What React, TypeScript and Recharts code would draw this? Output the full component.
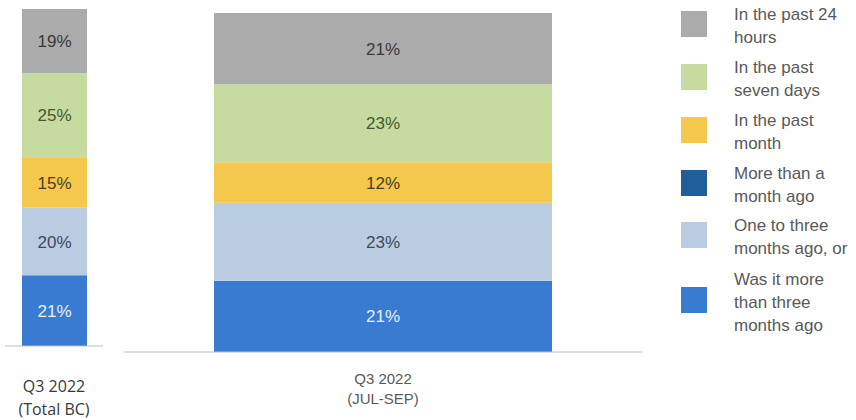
import React from "react";
import { BarChart, Bar, XAxis, YAxis, LabelList } from "recharts";

const leftCategories = ["Q3 2022|(Total BC)"];
const rightCategories = ["Q3 2022|(JUL-SEP)"];

// stack order: bottom to top
const seriesNames = [
  "Was it more than three months ago",
  "One to three months ago, or",
  "More than a month ago",
  "In the past month",
  "In the past seven days",
  "In the past 24 hours",
];
const legendLabels = [
  "Was it more\nthan three\nmonths ago",
  "One to three\nmonths ago, or",
  "More than a\nmonth ago",
  "In the past\nmonth",
  "In the past\nseven days",
  "In the past 24\nhours",
];
const leftValues = [21, 20, 0, 15, 25, 19];
const rightValues = [21, 23, 0, 12, 23, 21];
const colors = ["#3A7BD2", "#B9CCE2", "#1F5E98", "#F4C84C", "#C7DA9F", "#ABABAB"];
const labelColors = ["#E6F0FF", "#3C4A5C", "#FFFFFF", "#4A3F1A", "#3F5A2E", "#3A3A3A"];

const keys = seriesNames.map((_, i) => "s" + i);

const buildRows = (cats: string[], vals: number[]) =>
  cats.map((c) => {
    const row: any = { cat: c };
    keys.forEach((k, i) => (row[k] = vals[i]));
    return row;
  });

const leftData = buildRows(leftCategories, leftValues);
const rightData = buildRows(rightCategories, rightValues);

const makeTick = (fontFamily: string, fontSize: number, color: string, dy1: number, lh: number) =>
  (props: any) => {
    const { x, y, payload } = props;
    const lines = String(payload.value).split("|");
    return (
      <g>
        {lines.map((l, i) => (
          <text
            key={i}
            x={x}
            y={y + dy1 + i * lh}
            textAnchor="middle"
            fontFamily={fontFamily}
            fontSize={fontSize}
            fill={color}
          >
            {l}
          </text>
        ))}
      </g>
    );
  };

const LeftTick = makeTick("'Open Sans', sans-serif", 16, "#3a3a3a", 38, 23);
const RightTick = makeTick("'Liberation Sans', Arial, sans-serif", 15, "#595959", 24, 20);

const renderBars = (barSize: number) =>
  keys.map((k, i) => (
    <Bar
      key={k}
      dataKey={k}
      stackId="a"
      fill={colors[i]}
      barSize={barSize}
      isAnimationActive={false}
      name={seriesNames[i]}
    >
      <LabelList
        dataKey={k}
        position="center"
        formatter={(v: any) => (v ? v + "%" : "")}
        fill={labelColors[i]}
        fontSize={17}
        fontFamily="'Liberation Sans', Arial, sans-serif"
      />
    </Bar>
  ));

export default function App() {
  return (
    <div style={{ position: "absolute", left: 0, top: 0, width: 856, height: 420, background: "#fff" }}>
      <div style={{ position: "absolute", left: 0, top: 0 }}>
        <BarChart width={120} height={420} data={leftData} margin={{ top: 9, right: 17, left: 5, bottom: 0 }}>
          <YAxis hide domain={[0, 100]} />
          <XAxis
            dataKey="cat"
            height={74}
            axisLine={{ stroke: "#BFBFBF" }}
            tickLine={false}
            tick={<LeftTick />}
            interval={0}
          />
          {renderBars(65)}
        </BarChart>
      </div>
      <div style={{ position: "absolute", left: 0, top: 0 }}>
        <BarChart width={856} height={420} data={rightData} margin={{ top: 13, right: 214, left: 124, bottom: 0 }}>
          <YAxis hide domain={[0, 100]} />
          <XAxis
            dataKey="cat"
            height={68}
            axisLine={{ stroke: "#BFBFBF" }}
            tickLine={false}
            tick={<RightTick />}
            interval={0}
          />
          {renderBars(338)}
        </BarChart>
      </div>
      <div style={{ position: "absolute", left: 0, top: 0, width: 856, height: 420 }}>
        {legendLabels
          .map((lab, i) => ({ lab, i }))
          .reverse()
          .map(({ lab, i }, j) => {
            const centers = [24, 77, 130, 183, 235, 300];
            const lines = lab.split("\n");
            const lh = 23;
            const cy = centers[j];
            return (
              <div key={i}>
                <div
                  style={{
                    position: "absolute",
                    left: 681,
                    top: cy - 13,
                    width: 26,
                    height: 26,
                    background: colors[i],
                  }}
                />
                <div
                  style={{
                    position: "absolute",
                    left: 734,
                    top: cy + 2 - (lines.length * lh) / 2,
                    fontFamily: "'Liberation Sans', Arial, sans-serif",
                    fontSize: 17,
                    lineHeight: lh + "px",
                    color: "#595959",
                    whiteSpace: "pre",
                  }}
                >
                  {lab}
                </div>
              </div>
            );
          })}
      </div>
    </div>
  );
}
